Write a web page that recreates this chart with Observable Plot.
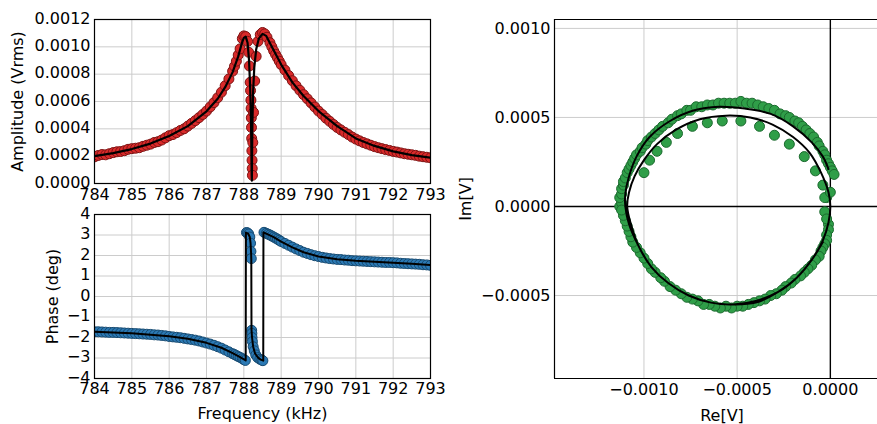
<!DOCTYPE html>
<html><head><meta charset="utf-8">
<script src="https://cdn.jsdelivr.net/npm/d3@7"></script>
<script src="https://cdn.jsdelivr.net/npm/@observablehq/plot@0.6"></script>
<style>
html,body{margin:0;padding:0;background:#fff;overflow:hidden}
#wrap{position:relative;width:877px;height:424px;overflow:hidden;font-family:'DejaVu Sans',sans-serif}
#wrap svg{position:absolute}
</style></head><body><div id="wrap"></div>
<script>
// ---------- tick values ----------
const freqTicks = [784, 785, 786, 787, 788, 789, 790, 791, 792, 793];
const ampTicks = [0, 0.0002, 0.0004, 0.0006, 0.0008, 0.0010, 0.0012];
const phaseTicks = [-4, -3, -2, -1, 0, 1, 2, 3, 4];
const reTicks = [-0.0010, -0.0005, 0.0000];
const imTicks = [-0.0005, 0.0000, 0.0005, 0.0010];

// ---------- amplitude (measured) ----------
const ampFreq = [
  784.0,784.1,784.2,784.3,784.4,784.5,784.6,784.7,784.8,784.9,785.0,785.1,785.2,785.3,785.4,785.5,785.6,785.7,785.8,785.9,
  786.0,786.1,786.2,786.3,786.4,786.5,786.6,786.7,786.8,786.9,787.0,787.1,787.2,787.3,787.4,787.5,787.6,
  787.7,787.75,787.8,787.85,787.9,787.96,788.0,788.05,788.1,788.13,788.15,788.17,
  788.18,788.19,788.195,788.2,788.205,788.21,788.215,788.22,788.225,788.23,
  788.24,788.26,788.29,788.33,788.38,788.44,788.5,788.56,788.62,788.7,
  788.75,788.8,788.85,788.9,788.95,789.0,
  789.1,789.2,789.3,789.4,789.5,789.6,789.7,789.8,789.9,790.0,790.1,790.2,790.3,790.4,790.5,790.6,790.7,790.8,790.9,791.0,
  791.1,791.2,791.3,791.4,791.5,791.6,791.7,791.8,791.9,792.0,792.1,792.2,792.3,792.4,792.5,792.6,792.7,792.8,792.9,793.0];
const ampVal = [
  0.000195,0.000205,0.000212,0.000210,0.000218,0.000226,0.000232,0.000234,0.000240,0.000250,0.000255,0.000258,0.000262,0.000272,0.000280,0.000288,0.000300,0.000306,0.000318,0.000334,
  0.000350,0.000358,0.000372,0.000388,0.000400,0.000420,0.000440,0.000460,0.000482,0.000505,0.000530,0.000560,0.000592,0.000628,0.000668,0.000715,0.000765,
  0.000822,0.000858,0.000895,0.000940,0.000985,0.001060,0.001080,0.001075,0.001040,0.000960,0.000860,0.000740,
  0.000680,0.000610,0.000550,0.000480,0.000410,0.000330,0.000240,0.000170,0.000110,0.000060,
  0.000300,0.000520,0.000750,0.000930,0.001040,0.001090,0.001105,0.001095,0.001070,0.001030,
  0.001000,0.000970,0.000945,0.000920,0.000895,0.000870,
  0.000830,0.000790,0.000752,0.000715,0.000682,0.000650,0.000620,0.000590,0.000560,0.000530,0.000505,0.000478,0.000455,0.000432,0.000410,0.000392,0.000375,0.000358,0.000340,0.000325,
  0.000312,0.000300,0.000290,0.000280,0.000270,0.000262,0.000255,0.000248,0.000242,0.000235,0.000230,0.000224,0.000218,0.000214,0.000210,0.000206,0.000200,0.000196,0.000192,0.000188];
// ---------- amplitude (fit) ----------
const ampFitFreq = [784.0,784.5,785.0,785.5,786.0,786.5,787.0,787.3,787.5,787.7,787.85,787.95,788.0,788.05,788.1,788.14,788.17,788.19,788.2,788.21,788.215,788.22,788.23,788.25,788.28,788.33,788.4,788.5,788.6,788.75,789.0,789.3,789.6,790.0,790.5,791.0,791.5,792.0,792.5,793.0];
const ampFitVal = [0.000200,0.000222,0.000252,0.000292,0.000348,0.000420,0.000528,0.000620,0.000705,0.000815,0.000930,0.001030,0.001065,0.001075,0.001030,0.000900,0.000700,0.000480,0.000300,0.000060,0.000020,0.000200,0.000450,0.000680,0.000850,0.000980,0.001060,0.001095,0.001080,0.001000,0.000870,0.000740,0.000640,0.000530,0.000420,0.000330,0.000275,0.000235,0.000208,0.000188];

// ---------- phase (measured) ----------
const phaseFreq = [
  784.0,784.1,784.2,784.3,784.4,784.5,784.6,784.7,784.8,784.9,785.0,785.1,785.2,785.3,785.4,785.5,785.6,785.7,785.8,785.9,
  786.0,786.1,786.2,786.3,786.4,786.5,786.6,786.7,786.8,786.9,787.0,787.1,787.2,787.3,787.4,787.5,787.6,
  787.7,787.75,787.8,787.85,787.9,787.96,788.0,788.04,
  788.07,788.1,788.13,788.16,788.18,788.19,788.2,
  788.21,788.215,788.22,788.23,788.25,788.28,788.32,788.37,788.43,788.48,788.51,
  788.54,788.6,788.65,788.7,788.75,788.8,788.85,788.9,788.95,789.0,
  789.1,789.2,789.3,789.4,789.5,789.6,789.7,789.8,789.9,790.0,790.1,790.2,790.3,790.4,790.5,790.6,790.7,790.8,790.9,791.0,
  791.1,791.2,791.3,791.4,791.5,791.6,791.7,791.8,791.9,792.0,792.1,792.2,792.3,792.4,792.5,792.6,792.7,792.8,792.9,793.0];
const phaseVal = [
  -1.72,-1.72,-1.73,-1.74,-1.75,-1.75,-1.76,-1.77,-1.78,-1.79,-1.80,-1.81,-1.82,-1.83,-1.84,-1.85,-1.87,-1.88,-1.90,-1.92,
  -1.95,-1.97,-1.99,-2.01,-2.04,-2.07,-2.10,-2.13,-2.17,-2.22,-2.27,-2.32,-2.38,-2.45,-2.52,-2.61,-2.70,
  -2.79,-2.83,-2.88,-2.93,-2.97,-3.03,-3.08,-3.12,
  3.12,3.10,3.05,2.90,2.60,2.20,1.85,
  -1.65,-1.80,-2.00,-2.20,-2.45,-2.65,-2.85,-2.98,-3.06,-3.10,-3.13,
  3.13,3.08,3.04,3.00,2.95,2.90,2.85,2.80,2.74,2.68,
  2.59,2.50,2.41,2.32,2.24,2.16,2.10,2.04,1.99,1.95,1.91,1.88,1.85,1.83,1.81,1.80,1.78,1.77,1.75,1.74,
  1.73,1.72,1.71,1.70,1.69,1.68,1.67,1.66,1.66,1.65,1.64,1.62,1.61,1.60,1.59,1.58,1.57,1.55,1.54,1.52];
// ---------- phase (fit) ----------
const phaseFitFreq = [784.0,785.0,786.0,786.5,787.0,787.4,787.7,787.9,788.05,788.055,788.12,788.16,788.18,788.195,788.2,788.205,788.22,788.25,788.3,788.38,788.45,788.52,788.525,788.6,788.8,789.0,789.3,789.6,790.0,790.5,791.0,791.5,792.0,792.5,793.0];
const phaseFitVal = [-1.72,-1.79,-1.94,-2.06,-2.26,-2.50,-2.76,-2.96,-3.12,3.12,3.05,2.90,2.60,2.10,1.80,-1.60,-2.00,-2.45,-2.78,-2.98,-3.08,-3.13,3.13,3.07,2.90,2.68,2.40,2.16,1.95,1.82,1.74,1.69,1.65,1.60,1.53];

// ---------- complex plane (measured) ----------
const reData = [
  // outer top band
  -0.00113,-0.00112,-0.00113,-0.00112,-0.00112,-0.00111,-0.00111,-0.00110,-0.00109,-0.00108,-0.00107,-0.00106,-0.00105,-0.00104,-0.00102,-0.00101,
  -0.00099,-0.00098,-0.00096,-0.00094,-0.00092,-0.00090,-0.00087,-0.00085,-0.00082,-0.00080,-0.00077,-0.00075,-0.00072,-0.00069,-0.00066,-0.00063,
  -0.00060,-0.00057,-0.00054,-0.00051,-0.00048,-0.00045,-0.00042,-0.00039,-0.00036,-0.00033,-0.00030,-0.00027,-0.00024,-0.00022,-0.00019,-0.00017,
  -0.00015,-0.00013,-0.00011,-0.00009,-0.00007,-0.00006,-0.00004,-0.00003,-0.00002,-0.00001,0.00000,0.00001,0.00002,
  // bottom band
  -0.00001,-0.00001,-0.00002,-0.00002,-0.00003,-0.00004,-0.00005,-0.00006,-0.00008,-0.00010,-0.00012,-0.00014,-0.00016,-0.00019,-0.00021,-0.00024,
  -0.00026,-0.00029,-0.00032,-0.00035,-0.00038,-0.00041,-0.00044,-0.00047,-0.00050,-0.00053,-0.00056,-0.00059,-0.00062,-0.00065,-0.00068,-0.00071,
  -0.00074,-0.00077,-0.00080,-0.00083,-0.00086,-0.00089,-0.00091,-0.00094,-0.00096,-0.00098,-0.00100,-0.00102,-0.00104,-0.00106,-0.00107,-0.00108,
  -0.00109,-0.00110,-0.00111,-0.00112,
  // inner arc
  -0.00100,-0.00097,-0.00093,-0.00088,-0.00082,-0.00074,-0.00066,-0.00058,-0.00048,-0.00038,-0.00030,-0.00022,-0.00014,-0.00008,-0.00004,-0.00002,
  // near origin
  -0.00003,-0.00003,-0.00002,0.00000];
const imData = [
  0.00000,0.00002,0.00005,0.00007,0.00010,0.00012,0.00014,0.00016,0.00019,0.00021,0.00023,0.00025,0.00027,0.00029,0.00031,0.00033,
  0.00035,0.00037,0.00039,0.00041,0.00043,0.00045,0.00047,0.00049,0.00051,0.00052,0.00054,0.00054,0.00056,0.00056,0.00057,0.00057,
  0.00058,0.00058,0.00058,0.00058,0.00059,0.00058,0.00058,0.00057,0.00056,0.00055,0.00054,0.00052,0.00051,0.00050,0.00048,0.00047,
  0.00045,0.00043,0.00041,0.00039,0.00036,0.00034,0.00031,0.00029,0.00026,0.00024,0.00022,0.00020,0.00018,
  -0.00010,-0.00013,-0.00016,-0.00019,-0.00021,-0.00023,-0.00025,-0.00028,-0.00030,-0.00033,-0.00035,-0.00037,-0.00039,-0.00041,-0.00043,-0.00045,
  -0.00047,-0.00049,-0.00050,-0.00052,-0.00053,-0.00054,-0.00055,-0.00056,-0.00056,-0.00057,-0.00056,-0.00057,-0.00056,-0.00055,-0.00055,-0.00053,
  -0.00052,-0.00051,-0.00049,-0.00047,-0.00045,-0.00042,-0.00040,-0.00037,-0.00035,-0.00032,-0.00029,-0.00026,-0.00023,-0.00020,-0.00017,-0.00014,
  -0.00011,-0.00008,-0.00005,-0.00002,
  0.00019,0.00026,0.00031,0.00036,0.00041,0.00045,0.00047,0.00048,0.00048,0.00045,0.00040,0.00035,0.00028,0.00020,0.00012,0.00005,
  0.00005,-0.00003,-0.00007,0.00008];
// ---------- complex plane (fit) ----------
const reFit = [
  -0.00004,-0.00010,-0.00018,-0.00028,-0.00040,-0.00052,-0.00064,-0.00076,-0.00087,-0.00096,-0.00103,-0.00107,-0.00109,
  -0.00108,-0.00105,-0.00100,-0.00093,-0.00083,-0.00070,-0.00056,-0.00043,-0.00031,-0.00020,-0.00011,-0.00005,-0.00001,0.00000,
  -0.00001,-0.00004,-0.00010,-0.00018,-0.00028,-0.00040,-0.00052,-0.00064,-0.00076,-0.00087,-0.00096,-0.00103,-0.00108,-0.00110,
  -0.00110,-0.00108,-0.00104,-0.00097,-0.00086,-0.00073,-0.00060,-0.00046,-0.00032,-0.00020,-0.00010,-0.00004,-0.00001];
const imFit = [
  -0.00020,-0.00030,-0.00040,-0.00048,-0.00053,-0.00055,-0.00054,-0.00050,-0.00043,-0.00034,-0.00022,-0.00010,0.00000,
  0.00008,0.00017,0.00026,0.00035,0.00043,0.00049,0.00051,0.00050,0.00046,0.00039,0.00030,0.00019,0.00008,0.00000,
  -0.00009,-0.00019,-0.00030,-0.00040,-0.00048,-0.00054,-0.00055,-0.00054,-0.00050,-0.00043,-0.00034,-0.00022,-0.00010,0.00000,
  0.00007,0.00017,0.00028,0.00039,0.00048,0.00054,0.00056,0.00055,0.00052,0.00045,0.00036,0.00028,0.00021];

// ---------- build tables ----------
const ampPts = ampFreq.map((f, i) => ({f, v: ampVal[i]}));
const ampFit = ampFitFreq.map((f, i) => ({f, v: ampFitVal[i]}));
const phPts = phaseFreq.map((f, i) => ({f, v: phaseVal[i]}));
const phFit = phaseFitFreq.map((f, i) => ({f, v: phaseFitVal[i]}));
const cPts = reData.map((r, i) => ({r, m: imData[i]}));
const cFit = reFit.map((r, i) => ({r, m: imFit[i]}));

const fmt = n => d => (d < 0 ? "\u2212" : "") + Math.abs(d).toFixed(n);
const FONT = "'DejaVu Sans', sans-serif";
const GRID = "#cccccc";
const style = {fontFamily: FONT, fontSize: "16px", background: "transparent", overflow: "visible", color: "black"};
const wrap = document.getElementById("wrap");
function place(svg, left, top) { svg.style.left = left + "px"; svg.style.top = top + "px"; wrap.appendChild(svg); }
const lab = {fontSize: 16, textAnchor: "middle", lineAnchor: "middle"};

// ---------- panel 1: amplitude ----------
const p1 = Plot.plot({
  width: 440, height: 206, marginLeft: 94, marginRight: 10, marginTop: 19, marginBottom: 23,
  style,
  x: {domain: [784, 793]},
  y: {domain: [0, 0.0012]},
  marks: [
    Plot.ruleX(freqTicks, {stroke: GRID}),
    Plot.ruleY(ampTicks, {stroke: GRID}),
    Plot.dot(ampPts, {x: "f", y: "v", r: 5, fill: "#d92a2a", stroke: "#7d1414", strokeWidth: 1, clip: true}),
    Plot.line(ampFit, {x: "f", y: "v", stroke: "black", strokeWidth: 2.2, clip: true}),
    Plot.frame({stroke: "black", strokeWidth: 1.2}),
    Plot.axisX(freqTicks, {tickSize: 0, tickPadding: 5, tickFormat: d => String(d), label: null, fontSize: 16}),
    Plot.axisY(ampTicks, {tickSize: 0, tickPadding: 4, tickFormat: fmt(4), label: null, fontSize: 16, dy: -1}),
    Plot.text(["Amplitude (Vrms)"], {...lab, frameAnchor: "left", dx: -77, rotate: -90})
  ]
});
place(p1, 0, 0);

// ---------- panel 2: phase ----------
const p2 = Plot.plot({
  width: 440, height: 229, marginLeft: 94, marginRight: 10, marginTop: 19, marginBottom: 46,
  style,
  x: {domain: [784, 793]},
  y: {domain: [-4, 4]},
  marks: [
    Plot.ruleX(freqTicks, {stroke: GRID}),
    Plot.ruleY(phaseTicks, {stroke: GRID}),
    Plot.dot(phPts, {x: "f", y: "v", r: 5, fill: "#2b79b4", stroke: "#174a70", strokeWidth: 1, clip: true}),
    Plot.line(phFit, {x: "f", y: "v", stroke: "black", strokeWidth: 2, clip: true}),
    Plot.frame({stroke: "black", strokeWidth: 1.2}),
    Plot.axisX(freqTicks, {tickSize: 0, tickPadding: 4, tickFormat: d => String(d), label: null, fontSize: 16}),
    Plot.axisY(phaseTicks, {tickSize: 0, tickPadding: 4, tickFormat: fmt(0), label: null, fontSize: 16, dy: -1}),
    Plot.text(["Phase (deg)"], {...lab, frameAnchor: "left", dx: -42, rotate: -90}),
    Plot.text(["Frequency (kHz)"], {...lab, frameAnchor: "bottom", dy: 35})
  ]
});
place(p2, 0, 195);

// ---------- panel 3: complex plane ----------
const xDom = [-0.00148, 0.000253];
const yDom = [-0.000966, 0.00105];
const p3 = Plot.plot({
  width: 437, height: 424, marginLeft: 114, marginRight: 0, marginTop: 19, marginBottom: 46,
  style,
  x: {domain: xDom},
  y: {domain: yDom},
  marks: [
    Plot.ruleX(reTicks.filter(d => d !== 0), {stroke: GRID}),
    Plot.ruleY(imTicks.filter(d => d !== 0), {stroke: GRID}),
    Plot.ruleX([0], {stroke: "black", strokeWidth: 1.4}),
    Plot.ruleY([0], {stroke: "black", strokeWidth: 1.4}),
    Plot.dot(cPts, {x: "r", y: "m", r: 5, fill: "#2f9e48", stroke: "#1b6a2e", strokeWidth: 1, clip: true}),
    Plot.line(cFit, {x: "r", y: "m", stroke: "black", strokeWidth: 2, curve: "catmull-rom", clip: true}),
    Plot.ruleX([xDom[0]], {stroke: "black", strokeWidth: 1.2}),
    Plot.ruleY([yDom[0]], {stroke: "black", strokeWidth: 1.2}),
    Plot.ruleY([yDom[1]], {stroke: "black", strokeWidth: 1.2}),
    Plot.axisX(reTicks, {tickSize: 0, tickPadding: 5, tickFormat: fmt(4), label: null, fontSize: 16}),
    Plot.axisY(imTicks, {tickSize: 0, tickPadding: 4, tickFormat: fmt(4), label: null, fontSize: 16}),
    Plot.text(["Im[V]"], {...lab, frameAnchor: "left", dx: -89, rotate: -90}),
    Plot.text(["Re[V]"], {...lab, frameAnchor: "bottom", dx: 6, dy: 37})
  ]
});
place(p3, 440, 0);
</script></body></html>
